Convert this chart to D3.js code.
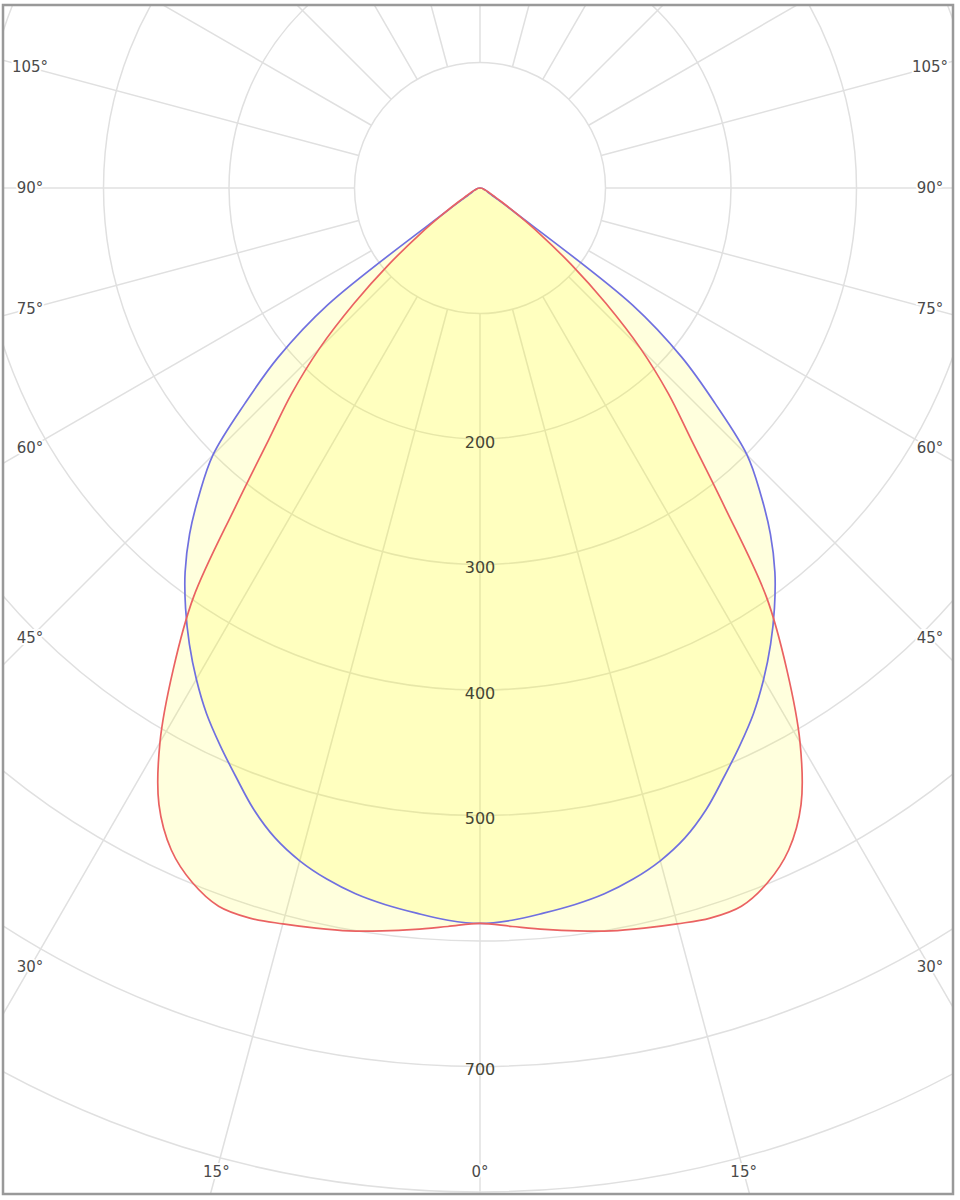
<!DOCTYPE html>
<html>
<head>
<meta charset="utf-8">
<script src="https://cdn.jsdelivr.net/npm/d3@7.9.0/dist/d3.min.js"></script>
<style>
  body { margin: 0; background: #fff; }
  text { font-family: "DejaVu Sans", Verdana, sans-serif; }
</style>
</head>
<body>
<div id="chart"></div>
<script>
// Vertical angles (gamma, degrees from nadir), same on both halves
const gammaAngles = d3.range(0, 90.01, 2.5);

// Luminous intensity (cd) for the C0-C180 plane (blue) and C90-C270 plane (red)
const blueCd = [586, 584, 580, 576, 571, 564, 555, 543, 527, 508, 490, 472, 452, 431, 409, 386, 360, 331, 301,
  254, 210, 153, 34, 15, 9, 7, 6, 5, 4, 3, 3, 2, 2, 1, 1, 0, 0];
const redCd = [586, 589, 593, 597, 601, 604, 607, 610, 609, 599, 582, 554, 510, 455, 398, 320, 262, 222, 181,
  136, 95, 60, 35, 20, 12, 9, 7, 5, 4, 3, 3, 2, 2, 1, 1, 0, 0];

// Grid
const ringValues = [100, 200, 300, 400, 500, 600, 700, 800, 900, 1000];
const ringLabels = [200, 300, 400, 500, 700];
const spokeAngles = d3.range(0, 360, 15);
const angleLabels = [0, 15, 30, 45, 60, 75, 90, 105];

const width = 960, height = 1200;
const cx = 480, cy = 188;
const frame = { x: 3, y: 5, w: 950, h: 1189 };

const r = d3.scaleLinear().domain([0, 100]).range([0, 125.5]);

const svg = d3.select('#chart').append('svg')
  .attr('width', width)
  .attr('height', height);

svg.append('defs').append('clipPath').attr('id', 'clip')
  .append('rect')
  .attr('x', frame.x).attr('y', frame.y)
  .attr('width', frame.w).attr('height', frame.h);

const plot = svg.append('g').attr('clip-path', 'url(#clip)');
const g = plot.append('g').attr('transform', `translate(${cx},${cy})`);

// rings
g.append('g').selectAll('circle')
  .data(ringValues)
  .join('circle')
  .attr('r', d => r(d))
  .attr('fill', 'none')
  .attr('stroke', '#e0e0e0')
  .attr('stroke-width', 1.5);

// spokes (gamma measured from straight down)
const rad = d => d * Math.PI / 180;
g.append('g').selectAll('line')
  .data(spokeAngles)
  .join('line')
  .attr('x1', d => r(100) * Math.sin(rad(d)))
  .attr('y1', d => r(100) * Math.cos(rad(d)))
  .attr('x2', d => r(1100) * Math.sin(rad(d)))
  .attr('y2', d => r(1100) * Math.cos(rad(d)))
  .attr('stroke', '#e0e0e0')
  .attr('stroke-width', 1.5);

// build closed outline: right half gamma 0..90, left half 87.5..2.5
function outline(values) {
  const right = gammaAngles.map((gm, i) => ({ a: Math.PI - rad(gm), v: values[i] }));
  const left = gammaAngles.map((gm, i) => ({ a: Math.PI + rad(gm), v: values[i] }))
    .slice(1, -1).reverse();
  return right.concat(left);
}

const radial = d3.lineRadial()
  .angle(d => d.a)
  .radius(d => r(d.v))
  .curve(d3.curveCatmullRomClosed.alpha(0.5));

const series = [
  { name: 'C0-C180', values: blueCd, color: '#7070e0' },
  { name: 'C90-C270', values: redCd, color: '#ea6262' }
];

g.append('g').selectAll('path')
  .data(series)
  .join('path')
  .attr('d', d => radial(outline(d.values)))
  .attr('fill', '#ffff00')
  .attr('fill-opacity', 0.135)
  .attr('stroke', 'none');

g.append('g').selectAll('path')
  .data(series)
  .join('path')
  .attr('d', d => radial(outline(d.values)))
  .attr('fill', 'none')
  .attr('stroke', d => d.color)
  .attr('stroke-width', 1.7)
  .attr('stroke-linejoin', 'round');

// ring labels
g.append('g').selectAll('text')
  .data(ringLabels)
  .join('text')
  .attr('x', 0)
  .attr('y', d => r(d) + 3)
  .attr('text-anchor', 'middle')
  .attr('dominant-baseline', 'central')
  .attr('font-size', 16)
  .attr('fill', '#454535')
  .text(d => d);

// angle labels where each spoke meets the label box
const boxX = 450, boxY = 984;
function labelPos(gm, side) {
  const s = Math.sin(rad(gm)), c = Math.cos(rad(gm));
  let t = s > 1e-6 ? boxX / s : Infinity;
  if (c > 1e-6) t = Math.min(t, boxY / c);
  return [side * s * t, c * t];
}
const angleData = [];
angleLabels.forEach(a => {
  if (a === 0) angleData.push({ a, p: labelPos(0, 1) });
  else {
    angleData.push({ a, p: labelPos(a, -1) });
    angleData.push({ a, p: labelPos(a, 1) });
  }
});

g.append('g').selectAll('text')
  .data(angleData)
  .join('text')
  .attr('x', d => d.p[0])
  .attr('y', d => d.p[1])
  .attr('text-anchor', 'middle')
  .attr('dominant-baseline', 'central')
  .attr('font-size', 15)
  .attr('fill', '#4a4a4a')
  .attr('stroke', '#fff')
  .attr('stroke-width', 4)
  .attr('paint-order', 'stroke')
  .text(d => d.a + '°');

// frame
svg.append('rect')
  .attr('x', frame.x).attr('y', frame.y)
  .attr('width', frame.w).attr('height', frame.h)
  .attr('fill', 'none')
  .attr('stroke', '#999')
  .attr('stroke-width', 2.5);
</script>
</body>
</html>
